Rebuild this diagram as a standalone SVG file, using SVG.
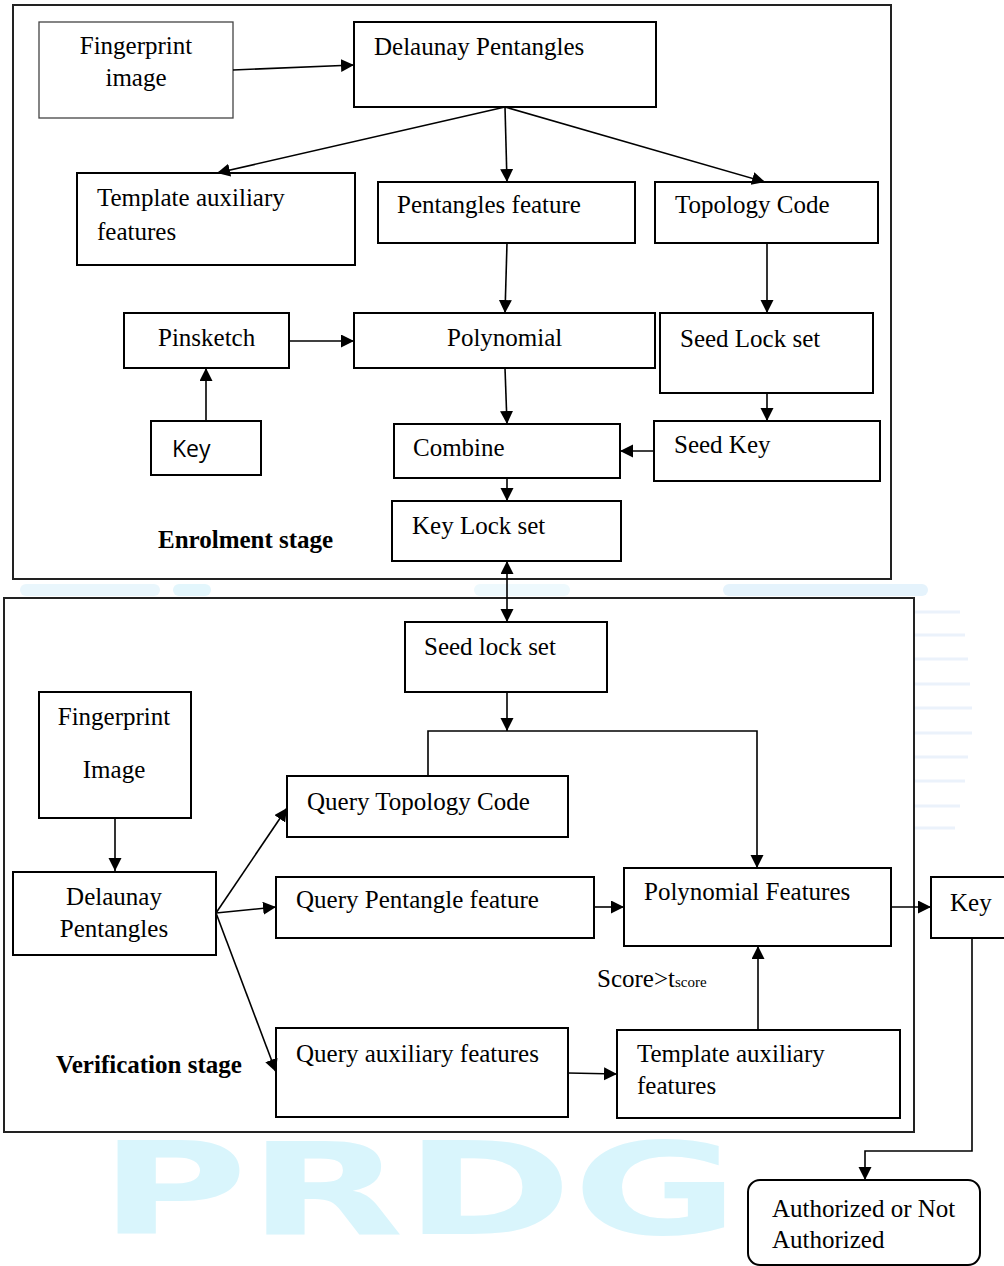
<svg xmlns="http://www.w3.org/2000/svg" width="1004" height="1266" viewBox="0 0 1004 1266">
<defs>
<style>
.box{fill:#fff;stroke:#000;stroke-width:2}
.thin{fill:#fff;stroke:#444;stroke-width:1.3}
.frame{fill:#fff;stroke:#222;stroke-width:2}
.t{font-family:"Liberation Serif","Times New Roman",serif;font-size:25px;fill:#000}
.b{font-weight:bold}
.sans{font-family:"Open Sans","Liberation Sans",sans-serif;font-size:23px;fill:#000}
.c path{stroke:#000;stroke-width:1.6;fill:none}
.wm{fill:#d9f5fc}
</style>
<marker id="ah" markerUnits="userSpaceOnUse" markerWidth="14" markerHeight="14" refX="13" refY="6.5" orient="auto-start-reverse">
<path d="M0,0 L13,6.5 L0,13 z" fill="#000"/>
</marker>
</defs>

<g id="watermark">
<text x="99" y="1234" class="wm" font-family="DejaVu Sans, sans-serif" font-weight="bold" font-size="128" textLength="640" lengthAdjust="spacingAndGlyphs">PRDG</text>
<rect x="20" y="584" width="140" height="12" rx="6" fill="#e9f6fc"/>
<rect x="173" y="584" width="38" height="12" rx="6" fill="#e3f6fc"/>
<rect x="474" y="584" width="96" height="12" rx="6" fill="#eef9fd"/>
<rect x="723" y="584" width="205" height="12" rx="6" fill="#e5f3fc"/>
<g stroke="#ebf2fb" stroke-width="3">
<path d="M915,612H960M915,635H965M915,659H968M915,684H970M915,708H972M915,733H972M915,757H968M915,781H965M915,806H960M915,828H955"/>
</g>
</g>

<g id="enrolment-frame"><rect class="frame" x="13" y="5" width="878" height="574"/></g>
<g id="verification-frame"><rect class="frame" x="4" y="598" width="910" height="534"/></g>

<g id="fingerprint-image"><rect class="thin" x="39" y="22" width="194" height="96"/>
<text class="t" x="136" y="54" text-anchor="middle">Fingerprint</text>
<text class="t" x="136" y="86" text-anchor="middle">image</text></g>

<g id="delaunay-pentangles"><rect class="box" x="354" y="22" width="302" height="85"/>
<text class="t" x="374" y="55">Delaunay Pentangles</text></g>

<g id="template-aux-1"><rect class="box" x="77" y="173" width="278" height="92"/>
<text class="t" x="97" y="206">Template auxiliary</text>
<text class="t" x="97" y="240">features</text></g>

<g id="pentangles-feature"><rect class="box" x="378" y="182" width="257" height="61"/>
<text class="t" x="397" y="213">Pentangles feature</text></g>

<g id="topology-code"><rect class="box" x="655" y="182" width="223" height="61"/>
<text class="t" x="675" y="213">Topology Code</text></g>

<g id="pinsketch"><rect class="box" x="124" y="313" width="165" height="55"/>
<text class="t" x="158" y="346">Pinsketch</text></g>

<g id="polynomial"><rect class="box" x="354" y="313" width="301" height="55"/>
<text class="t" x="447" y="346">Polynomial</text></g>

<g id="seed-lock-set-1"><rect class="box" x="660" y="313" width="213" height="80"/>
<text class="t" x="680" y="347">Seed Lock set</text></g>

<g id="key-1"><rect class="box" x="151" y="421" width="110" height="54"/>
<text class="sans" x="172" y="457">Key</text></g>

<g id="combine"><rect class="box" x="394" y="424" width="226" height="54"/>
<text class="t" x="413" y="456">Combine</text></g>

<g id="seed-key"><rect class="box" x="654" y="421" width="226" height="60"/>
<text class="t" x="674" y="453">Seed Key</text></g>

<g id="key-lock-set"><rect class="box" x="392" y="501" width="229" height="60"/>
<text class="t" x="412" y="534">Key Lock set</text></g>

<g id="enrolment-label"><text class="t b" x="158" y="548">Enrolment stage</text></g>

<g id="seed-lock-set-2"><rect class="box" x="405" y="622" width="202" height="70"/>
<text class="t" x="424" y="655">Seed lock set</text></g>

<g id="fingerprint-image-2"><rect class="box" x="39" y="692" width="152" height="126"/>
<text class="t" x="114" y="725" text-anchor="middle">Fingerprint</text>
<text class="t" x="114" y="778" text-anchor="middle">Image</text></g>

<g id="delaunay-2"><rect class="box" x="13" y="872" width="203" height="83"/>
<text class="t" x="114" y="905" text-anchor="middle">Delaunay</text>
<text class="t" x="114" y="937" text-anchor="middle">Pentangles</text></g>

<g id="query-topology"><rect class="box" x="287" y="776" width="281" height="61"/>
<text class="t" x="307" y="810">Query Topology Code</text></g>

<g id="query-pentangle"><rect class="box" x="276" y="877" width="318" height="61"/>
<text class="t" x="296" y="908">Query Pentangle feature</text></g>

<g id="polynomial-features"><rect class="box" x="624" y="868" width="267" height="78"/>
<text class="t" x="644" y="900">Polynomial Features</text></g>

<g id="key-2"><rect class="box" x="931" y="877" width="80" height="61"/>
<text class="t" x="950" y="911">Key</text></g>

<g id="score-label"><text class="t" x="597" y="987" font-size="23">Score&gt;t<tspan font-size="15">score</tspan></text></g>

<g id="query-aux"><rect class="box" x="276" y="1028" width="292" height="89"/>
<text class="t" x="296" y="1062">Query auxiliary features</text></g>

<g id="verification-label"><text class="t b" x="56" y="1073">Verification stage</text></g>

<g id="template-aux-2"><rect class="box" x="617" y="1030" width="283" height="88"/>
<text class="t" x="637" y="1062">Template auxiliary</text>
<text class="t" x="637" y="1094">features</text></g>

<g id="authorized"><rect class="box" x="748" y="1180" width="232" height="85" rx="12"/>
<text class="t" x="772" y="1217">Authorized or Not</text>
<text class="t" x="772" y="1248">Authorized</text></g>

<g id="connectors" class="c">
<path d="M233,70 L354,65" marker-end="url(#ah)"/>
<path d="M505,107 L217,173" marker-end="url(#ah)"/>
<path d="M505,107 L507,182" marker-end="url(#ah)"/>
<path d="M505,107 L765,182" marker-end="url(#ah)"/>
<path d="M507,243 L505,313" marker-end="url(#ah)"/>
<path d="M767,243 L767,313" marker-end="url(#ah)"/>
<path d="M289,341 L354,341" marker-end="url(#ah)"/>
<path d="M206,421 L206,368" marker-end="url(#ah)"/>
<path d="M505,368 L507,424" marker-end="url(#ah)"/>
<path d="M767,393 L767,421" marker-end="url(#ah)"/>
<path d="M654,451 L620,451" marker-end="url(#ah)"/>
<path d="M507,478 L507,501" marker-end="url(#ah)"/>
<path d="M507,561 L507,622" marker-start="url(#ah)" marker-end="url(#ah)"/>
<path d="M507,692 L507,731" marker-end="url(#ah)"/>
<path d="M428,776 L428,731 L757,731 L757,868" marker-end="url(#ah)"/>
<path d="M115,818 L115,871" marker-end="url(#ah)"/>
<path d="M216,913 L287,808" marker-end="url(#ah)"/>
<path d="M216,913 L276,907" marker-end="url(#ah)"/>
<path d="M216,913 L276,1072" marker-end="url(#ah)"/>
<path d="M594,907 L624,907" marker-end="url(#ah)"/>
<path d="M891,907 L931,907" marker-end="url(#ah)"/>
<path d="M568,1073 L617,1074" marker-end="url(#ah)"/>
<path d="M758,1030 L758,946" marker-end="url(#ah)"/>
<path d="M972,938 L972,1151 L865,1151 L865,1180" marker-end="url(#ah)"/>
</g>
</svg>
